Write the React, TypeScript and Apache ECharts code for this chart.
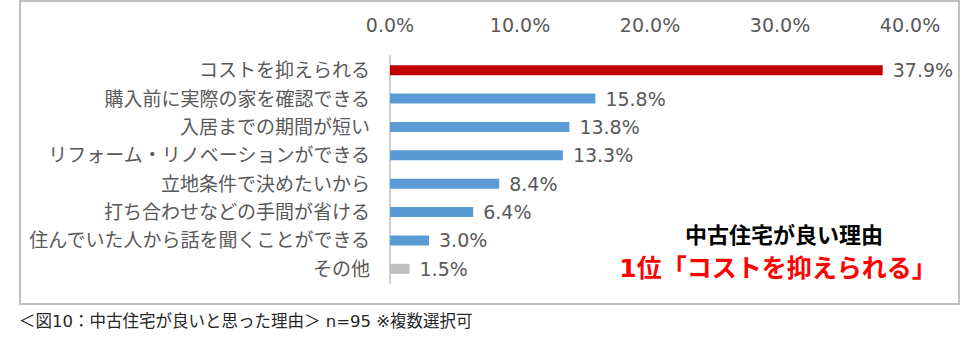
import React, { useEffect, useRef } from "react";
import * as echarts from "echarts";

const categories = [
  "コストを抑えられる",
  "購入前に実際の家を確認できる",
  "入居までの期間が短い",
  "リフォーム・リノベーションができる",
  "立地条件で決めたいから",
  "打ち合わせなどの手間が省ける",
  "住んでいた人から話を聞くことができる",
  "その他",
];
const values = [37.9, 15.8, 13.8, 13.3, 8.4, 6.4, 3.0, 1.5];
const barColors = ["#C00000", "#5B9BD5", "#5B9BD5", "#5B9BD5", "#5B9BD5", "#5B9BD5", "#5B9BD5", "#BFBFBF"];
const axisTicks = [0, 10, 20, 30, 40];
const titleLine1 = "中古住宅が良い理由";
const titleLine2 = "1位「コストを抑えられる」";
const caption = "＜図10：中古住宅が良いと思った理由＞ n=95 ※複数選択可";

const FONT = "'DejaVu Sans', 'Noto Sans CJK JP', sans-serif";

export default function App() {
  const ref = useRef<HTMLDivElement>(null);
  useEffect(() => {
    document.body.style.margin = "0";
    const chart = echarts.init(ref.current!, undefined, { renderer: "svg" });
    chart.setOption({
      animation: false,
      backgroundColor: "#FFFFFF",
      textStyle: { fontFamily: FONT },
      grid: { left: 390, right: 53, top: 56, bottom: 73, containLabel: false },
      xAxis: {
        type: "value",
        position: "top",
        min: axisTicks[0],
        max: axisTicks[axisTicks.length - 1],
        interval: 10,
        axisLine: { show: false },
        axisTick: { show: false },
        splitLine: { show: false },
        axisLabel: {
          color: "#595959",
          fontSize: 19,
          fontFamily: FONT,
          margin: 22,
          formatter: (v: number) => v.toFixed(1) + "%",
        },
      },
      yAxis: {
        type: "category",
        inverse: true,
        data: categories,
        axisLine: { show: true, lineStyle: { color: "#D0D0D0", width: 2 } },
        axisTick: { show: false },
        axisLabel: { color: "#595959", fontSize: 19, fontFamily: FONT, margin: 20 },
      },
      series: [
        {
          type: "bar",
          barWidth: 10,
          data: values.map((v, i) => ({ value: v, itemStyle: { color: barColors[i] } })),
          label: {
            show: true,
            position: "right",
            distance: 10,
            color: "#595959",
            fontSize: 19,
            fontFamily: FONT,
            formatter: (p: any) => Number(p.value).toFixed(1) + "%",
          },
        },
      ],
      graphic: [
        {
          type: "rect",
          shape: { x: 20, y: 1, width: 939, height: 303 },
          style: { fill: "none", stroke: "#BFBFBF", lineWidth: 2 },
          silent: true,
        },
        {
          type: "text",
          x: 784,
          y: 235,
          style: {
            text: titleLine1,
            fill: "#000000",
            fontSize: 22,
            fontWeight: "bold",
            fontFamily: FONT,
            align: "center",
            verticalAlign: "middle",
          },
        },
        {
          type: "text",
          x: 778,
          y: 268,
          style: {
            text: titleLine2,
            fill: "#FF0000",
            fontSize: 25,
            fontWeight: "bold",
            fontFamily: FONT,
            align: "center",
            verticalAlign: "middle",
          },
        },
        {
          type: "text",
          x: 19,
          y: 321,
          style: {
            text: caption,
            fill: "#262626",
            fontSize: 16.5,
            fontFamily: FONT,
            align: "left",
            verticalAlign: "middle",
          },
        },
      ],
    });
    return () => chart.dispose();
  }, []);
  return <div ref={ref} style={{ width: 963, height: 356, position: "absolute", left: 0, top: 0 }} />;
}
